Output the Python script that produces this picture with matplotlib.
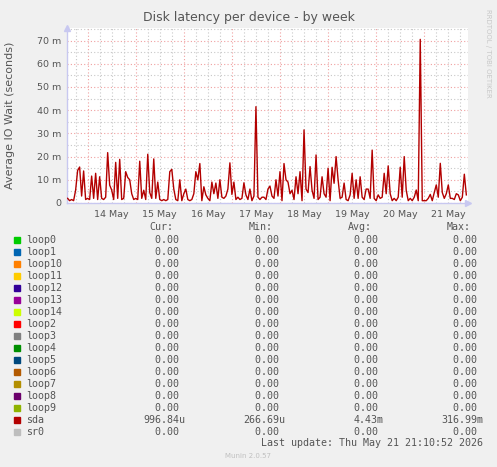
import matplotlib
matplotlib.use("Agg")
import matplotlib.pyplot as plt
import matplotlib.dates as mdates
import pandas as pd
from matplotlib.patches import Rectangle
from matplotlib.ticker import FixedLocator, FuncFormatter

# ---------------------------------------------------------------------------
# Data (hourly samples, milliseconds)
# ---------------------------------------------------------------------------

START = "2026-05-13 14:00"
sda_ms = [
    2.0, 1.0, 1.5, 1.0, 5.5, 14.0, 15.5, 3.0, 13.8, 1.5,
    2.0, 1.5, 11.6, 2.0, 12.8, 1.5, 11.3, 2.0, 1.5, 2.5,
    21.7, 7.7, 5.6, 1.5, 17.5, 2.0, 18.8, 1.5, 2.0, 13.5,
    11.0, 10.0, 4.0, 1.5, 2.0, 1.5, 18.0, 2.0, 5.5, 1.5,
    21.0, 4.5, 2.0, 19.0, 2.0, 9.0, 1.5, 1.0, 1.5, 1.0,
    1.5, 13.5, 14.5, 6.0, 1.5, 1.0, 10.0, 1.0, 4.0, 6.0,
    1.5, 1.0, 1.5, 4.0, 13.5, 10.0, 17.0, 1.0, 7.0, 3.5,
    2.0, 1.0, 9.0, 4.0, 8.6, 2.0, 10.0, 2.5, 2.0, 3.0,
    6.0, 17.3, 3.7, 9.0, 1.5, 2.5, 1.5, 2.0, 8.7, 3.5,
    1.5, 6.0, 1.0, 3.0, 41.5, 2.5, 1.5, 2.5, 2.5, 1.5,
    6.0, 7.3, 3.0, 2.0, 10.0, 3.0, 13.5, 1.0, 17.0, 10.0,
    9.0, 4.0, 5.5, 1.5, 11.3, 4.0, 13.5, 1.0, 31.5, 6.0,
    4.5, 15.7, 5.5, 2.0, 20.7, 1.5, 2.5, 11.3, 4.0, 2.5,
    15.0, 1.0, 15.4, 8.5, 20.0, 10.0, 2.0, 2.5, 8.6, 1.5,
    1.0, 3.5, 12.8, 2.0, 10.0, 2.0, 11.3, 2.5, 1.5, 6.0,
    6.0, 2.0, 22.8, 2.0, 1.0, 3.5, 2.0, 2.5, 12.8, 4.0,
    16.0, 4.0, 1.0, 2.0, 1.0, 2.5, 15.4, 2.5, 20.0, 5.5,
    1.0, 2.0, 1.0, 2.5, 5.6, 1.0, 70.5, 1.0, 1.0, 1.0,
    2.0, 3.7, 1.0, 4.5, 7.8, 2.5, 17.1, 4.5, 2.0, 4.0,
    7.8, 2.0, 2.0, 1.5, 4.0, 3.5, 1.0, 2.5, 12.4, 3.5,
]

devices = ["loop0", "loop1", "loop10", "loop11", "loop12", "loop13", "loop14",
           "loop2", "loop3", "loop4", "loop5", "loop6", "loop7", "loop8",
           "loop9", "sda", "sr0"]
colors = ["#00CC00", "#0066B3", "#FF8000", "#FFCC00", "#330099", "#990099",
          "#CCFF00", "#FF0000", "#808080", "#008F00", "#00487D", "#B35A00",
          "#B38F00", "#6B006B", "#8FB300", "#B30000", "#BEBEBE"]
cur = ["0.00 "] * 15 + ["996.84u", "0.00 "]
mins = ["0.00 "] * 15 + ["266.69u", "0.00 "]
avgs = ["0.00 "] * 15 + ["4.43m", "0.00 "]
maxs = ["0.00 "] * 15 + ["316.99m", "0.00 "]

W, H = 497, 467
BG = "#f0f0f0"
TXT = "#555555"
AXC = "#c8c8f0"

fig = plt.figure(figsize=(W / 100, H / 100), dpi=100, facecolor=BG)
ax = fig.add_axes([67 / W, 1 - 203 / H, (468 - 67) / W, (203 - 28) / H])
ax.set_facecolor("white")

times = pd.date_range(START, periods=len(sda_ms), freq="h")
ax.plot(times.to_pydatetime(), sda_ms, color="#B30000", lw=1.0, zorder=3)

ax.set_xlim(pd.Timestamp("2026-05-13 13:42"), pd.Timestamp("2026-05-21 21:50"))
ax.set_ylim(0, 75.4)

# y axis: major every 10 (red dotted), minor every 5 (grey dotted)
ax.yaxis.set_major_locator(FixedLocator(range(0, 80, 10)))
ax.yaxis.set_minor_locator(FixedLocator(range(5, 80, 10)))
ax.yaxis.set_major_formatter(FuncFormatter(lambda v, p: "0" if v == 0 else f"{int(v)} m"))
ax.grid(which="major", axis="y", color="#f0a0a0", ls=(0, (1, 2)), lw=0.8)
ax.grid(which="minor", axis="y", color="#c8c8c8", ls=(0, (1, 2)), lw=0.8)

# x axis: midnight red dotted, 6h grey dotted, labels at noon
ax.xaxis.set_major_locator(mdates.DayLocator())
ax.xaxis.set_major_formatter(FuncFormatter(lambda v, p: ""))
ax.xaxis.set_minor_locator(mdates.HourLocator(byhour=[6, 12, 18]))


def noon_label(v, p):
    d = mdates.num2date(v)
    return d.strftime("%d %b") if d.hour == 12 else ""


ax.xaxis.set_minor_formatter(FuncFormatter(noon_label))
ax.grid(which="major", axis="x", color="#f0a0a0", ls=(0, (1, 2)), lw=0.8)
ax.grid(which="minor", axis="x", color="#c8c8c8", ls=(0, (1, 2)), lw=0.8)
ax.set_axisbelow(True)

ax.tick_params(which="both", length=0, colors=TXT, labelsize=6.8, pad=4)
ax.tick_params(axis="x", which="minor", pad=5)

for s in ["top", "right"]:
    ax.spines[s].set_visible(False)
for s in ["left", "bottom"]:
    ax.spines[s].set_color(AXC)
    ax.spines[s].set_linewidth(1.0)
ax.plot([0], [1.0], marker="^", ms=5, color=AXC, transform=ax.transAxes, clip_on=False)
ax.plot([1.0], [0], marker=">", ms=5, color=AXC, transform=ax.transAxes, clip_on=False)

fig.text(248.5 / W, 1 - 18 / H, "Disk latency per device - by week", ha="center",
         va="center", fontsize=9, color=TXT)
fig.text(10 / W, 1 - 115 / H, "Average IO Wait (seconds)", rotation=90, ha="center",
         va="center", fontsize=8, color=TXT)
fig.text(488 / W, 1 - 53 / H, "RRDTOOL / TOBI OETIKER", rotation=270, ha="center",
         va="center", fontsize=5, color="#c8c8c8")

# legend table
mono = "DejaVu Sans Mono"
fs = 7.2
row0 = 240
step = 11.98
for x, head in zip([149, 249, 348, 447], ["Cur:", "Min:", "Avg:", "Max:"]):
    fig.text(x / W, 1 - 227.5 / H, head, ha="left", va="center", family=mono,
             fontsize=fs, color=TXT)
for i, name in enumerate(devices):
    y = row0 + i * step
    fig.patches.append(Rectangle((14 / W, 1 - (y + 3) / H), 6 / W, 6 / H,
                                 transform=fig.transFigure, color=colors[i]))
    fig.text(26.5 / W, 1 - y / H, name, ha="left", va="center", family=mono,
             fontsize=fs, color=TXT)
    for x, col in zip([185, 285, 384, 483], [cur, mins, avgs, maxs]):
        fig.text(x / W, 1 - y / H, col[i], ha="right", va="center", family=mono,
                 fontsize=fs, color=TXT)

fig.text(483 / W, 1 - 443.5 / H, "Last update: Thu May 21 21:10:52 2026", ha="right",
         va="center", family=mono, fontsize=fs, color=TXT)
fig.text(248 / W, 1 - 456 / H, "Munin 2.0.57", ha="center", va="center",
         fontsize=5, color="#c0c0c0")

fig.savefig("out.png", dpi=100, facecolor=BG)
